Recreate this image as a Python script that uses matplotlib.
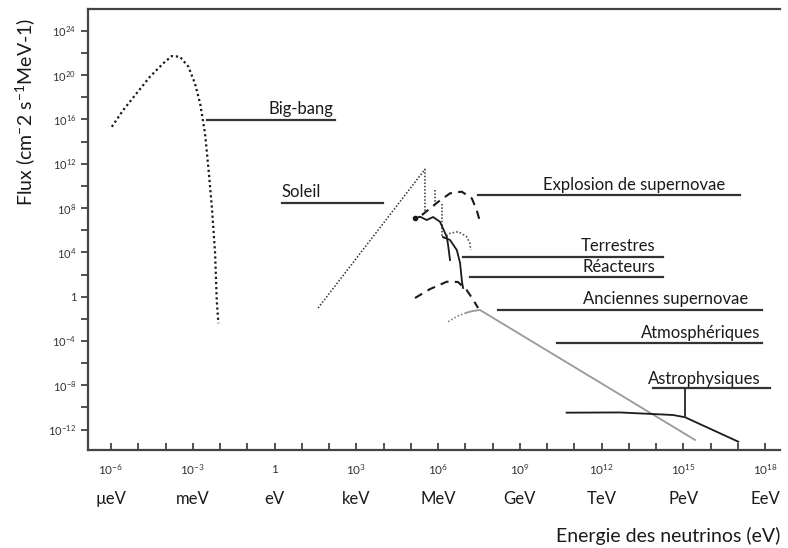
import numpy as np
import matplotlib
matplotlib.use('Agg')
from matplotlib import pyplot as plt
from matplotlib import transforms

plt.rcParams['font.family'] = ['Lato', 'DejaVu Sans']
plt.rcParams['mathtext.fontset'] = 'custom'
plt.rcParams['mathtext.rm'] = 'Lato'
plt.rcParams['mathtext.it'] = 'Lato'
plt.rcParams['mathtext.bf'] = 'Lato'

# --- data (log10 of energy in eV, log10 of flux) ---
bigbang_logE = [-5.97, -5.55, -5.06, -4.57, -4.08, -3.77, -3.47, -3.16, -2.92, -2.73,
                -2.55, -2.43, -2.30, -2.18, -2.12, -2.06]
bigbang_logF = [15.34, 16.85, 18.36, 19.86, 21.07, 21.72, 21.66, 20.76, 19.26, 17.45,
                14.75, 11.73, 8.12, 3.92, -0.30, -2.40]

soleil_logE = [1.60, 5.52, 5.52]
soleil_logF = [-1.02, 11.50, 7.55]
be7_logE = [5.89, 5.89]
be7_logF = [9.6, 8.1]
b8_logE = [6.14, 6.14]
b8_logF = [8.4, 5.5]

sn_expl_logE = [5.41, 6.01, 6.44, 6.87, 7.24, 7.42, 7.54]
sn_expl_logF = [7.37, 8.57, 9.33, 9.48, 8.88, 7.82, 6.77]

terr_logE = [6.195, 6.44, 6.745, 7.05, 7.17, 7.20]
terr_logF = [5.27, 5.72, 5.87, 5.42, 4.82, 4.21]

geo_logE = [5.156, 5.34, 5.585, 5.82, 6.07, 6.32, 6.37, 6.44]
geo_logF = [7.08, 7.22, 6.92, 7.19, 6.77, 5.42, 4.67, 3.31]

reac_logE = [6.18, 6.44, 6.69, 6.81, 6.88, 6.92]
reac_logF = [5.39, 5.12, 4.21, 3.04, 1.33, 0.79]

old_sn_logE = [5.156, 5.71, 6.32, 6.73, 7.05, 7.25, 7.47]
old_sn_logF = [-0.12, 0.69, 1.35, 1.33, 0.60, -0.12, -1.02]

atmo_dot_logE = [6.37, 6.73, 7.05]
atmo_dot_logF = [-2.26, -1.74, -1.44]
atmo_logE = [7.05, 7.28, 7.54, 15.43]
atmo_logF = [-1.44, -1.29, -1.20, -12.93]

astro_logE = [10.72, 12.68, 14.62, 15.06, 17.02]
astro_logF = [-10.47, -10.45, -10.68, -10.88, -13.09]

labels = ['Big-bang', 'Soleil', 'Explosion de supernovae', 'Terrestres', 'Réacteurs',
          'Anciennes supernovae', 'Atmosphériques', 'Astrophysiques']

xtick_exp = list(range(-6, 19, 3))
xtick_units = ['µeV', 'meV', 'eV', 'keV', 'MeV', 'GeV', 'TeV', 'PeV', 'EeV']
ytick_exp = list(range(-12, 25, 4))

# --- label leader lines: (x0, x1, y) in log units, text anchor (x, y, ha) ---
leader = [(-2.49, 2.22, 15.95), (0.26, 3.99, 8.48), (7.48, 17.09, 9.18),
          (6.92, 14.27, 3.61), (7.17, 14.27, 1.805), (8.21, 17.88, -1.20),
          (10.36, 17.88, -4.21), (13.89, 18.18, -8.27)]
text_pos = [(2.15, 16.95, 'right'), (0.24, 9.45, 'left'), (16.53, 10.1, 'right'),
            (13.96, 4.55, 'right'), (13.96, 2.65, 'right'), (17.37, -0.25, 'right'),
            (17.82, -3.25, 'right'), (17.82, -7.45, 'right')]

p = lambda v: 10.0 ** np.array(v)

fig = plt.figure(figsize=(7.88, 5.48), dpi=100)
ax = fig.add_axes([88/788, 1-450/548, (780-88)/788, (450-9)/548])
ax.set_xscale('log')
ax.set_yscale('log')
ax.set_xlim(10**-6.844, 10**18.55)
ax.set_ylim(10**-13.84, 10**25.97)

blk = '#1a1a1a'
ax.plot(p(bigbang_logE), p(bigbang_logF), color=blk, lw=1.6, ls=(0, (1, 1.3)))
ax.plot(p(soleil_logE), p(soleil_logF), color='#333333', lw=1.1, ls=(0, (1, 1.2)))
ax.plot(p(be7_logE), p(be7_logF), color='#333333', lw=1.1, ls=(0, (1, 1.2)))
ax.plot(p(b8_logE), p(b8_logF), color='#333333', lw=1.1, ls=(0, (1, 1.2)))
ax.plot(p(sn_expl_logE), p(sn_expl_logF), color=blk, lw=1.5, ls=(0, (4, 3)))
ax.plot(p(terr_logE), p(terr_logF), color='#555555', lw=1.2, ls=(0, (1, 1.2)))
ax.plot(p(geo_logE), p(geo_logF), color=blk, lw=1.3)
ax.plot(p(geo_logE[:1]), p(geo_logF[:1]), 'o', color=blk, ms=3)
ax.plot(p(reac_logE), p(reac_logF), color=blk, lw=1.3)
ax.plot(p(old_sn_logE), p(old_sn_logF), color=blk, lw=1.5, ls=(0, (4, 3)))
ax.plot(p(atmo_dot_logE), p(atmo_dot_logF), color='#888888', lw=1.2, ls=(0, (1, 1.2)))
ax.plot(p(atmo_logE), p(atmo_logF), color='#999999', lw=1.3)
ax.plot(p(astro_logE), p(astro_logF), color=blk, lw=1.3)

for (x0, x1, y), (tx, ty, ha), name in zip(leader, text_pos, labels):
    ax.plot([10**x0, 10**x1], [10**y, 10**y], color='#333333', lw=1.6)
    ax.text(10**tx, 10**ty, name, ha=ha, va='center', fontsize=12, color='#1a1a1a')
# astrophysical connector
ax.plot([10**15.06, 10**15.06], [10**-8.27, 10**-10.86], color='#333333', lw=1.4)

ax.spines['right'].set_visible(False)
for side in ['left', 'bottom', 'top']:
    ax.spines[side].set_color('#444444')
    ax.spines[side].set_linewidth(1.6)

ax.xaxis.set_major_locator(matplotlib.ticker.FixedLocator(p(range(-6, 19))))
ax.xaxis.set_minor_locator(matplotlib.ticker.NullLocator())
ax.yaxis.set_major_locator(matplotlib.ticker.FixedLocator(p(range(-12, 25, 2))))
ax.yaxis.set_minor_locator(matplotlib.ticker.NullLocator())
ax.tick_params(axis='x', direction='in', length=5, width=1.2, color='#333333',
               labelbottom=False, top=False)
ax.tick_params(axis='y', direction='out', length=5, width=1.2, color='#333333',
               labelsize=8, labelcolor='#333333')
ax.set_yticklabels([('1' if e == 0 else '$10^{%d}$' % e) if e in ytick_exp else ''
                    for e in range(-12, 25, 2)])

trans = transforms.blended_transform_factory(ax.transData, ax.transAxes)
for e, unit in zip(xtick_exp, xtick_units):
    ax.text(10**e, -0.045, '1' if e == 0 else '$10^{%d}$' % e, transform=trans,
            ha='center', va='center', fontsize=8.5, color='#333333')
    ax.text(10**e, -0.112, unit, transform=trans, ha='center', va='center',
            fontsize=12, color='#1a1a1a')

fig.text(25/788, 1-112/548, 'Flux (cm$^{-}$2 s$^{-1}$MeV-1)', rotation=90,
         ha='center', va='center', fontsize=14, color='#1a1a1a')
fig.text(780/788, 1-536/548, 'Energie des neutrinos (eV)', ha='right', va='center',
         fontsize=14, color='#1a1a1a')

fig.savefig('out.png', dpi=100)
